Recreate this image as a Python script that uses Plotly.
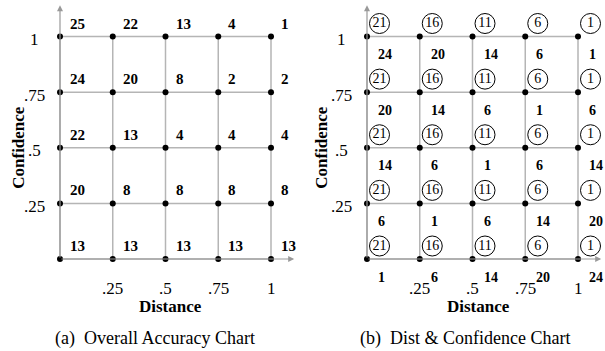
import plotly.graph_objects as go

# ---------------- data ----------------
distance = [0, 0.25, 0.5, 0.75, 1]
confidence = [1, 0.75, 0.5, 0.25, 0]          # rows, top to bottom
tick_vals = [0.25, 0.5, 0.75, 1]
tick_text = [".25", ".5", ".75", "1"]

overall_accuracy = [
    [25, 22, 13, 4, 1],
    [24, 20, 8, 2, 2],
    [22, 13, 4, 4, 4],
    [20, 8, 8, 8, 8],
    [13, 13, 13, 13, 13],
]
circled_rank = [
    [21, 16, 11, 6, 1],
    [21, 16, 11, 6, 1],
    [21, 16, 11, 6, 1],
    [21, 16, 11, 6, 1],
    [21, 16, 11, 6, 1],
]
dist_conf = [
    [24, 20, 14, 6, 1],
    [20, 14, 6, 1, 6],
    [14, 6, 1, 6, 14],
    [6, 1, 6, 14, 20],
    [1, 6, 14, 20, 24],
]
captions = ["(a)  Overall Accuracy Chart", "(b)  Dist & Confidence Chart"]

# ---------------- style ----------------
W, H = 605, 351
FONT = "Liberation Serif"
GRID = "#b5b5b5"
PX_X = 211.0     # pixels per data unit (x)
PX_Y = 222.5     # pixels per data unit (y)

fig = go.Figure()
ann = []

def panel(xa, ya, xref, yref):
    for c in confidence:
        fig.add_trace(go.Scatter(x=[distance[0], distance[-1]], y=[c, c], mode="lines",
                                 line=dict(color=GRID, width=1.5), xaxis=xa, yaxis=ya,
                                 hoverinfo="skip", showlegend=False))
    for d in distance:
        fig.add_trace(go.Scatter(x=[d, d], y=[confidence[-1], confidence[0]], mode="lines",
                                 line=dict(color=GRID, width=1.5), xaxis=xa, yaxis=ya,
                                 hoverinfo="skip", showlegend=False))
    ann.append(dict(x=1.11, y=0, ax=0, ay=0, xref=xref, yref=yref, axref=xref, ayref=yref,
                    text="", showarrow=True, arrowhead=2, arrowsize=1, arrowwidth=1.2,
                    arrowcolor="#999999"))
    ann.append(dict(x=0, y=1.14, ax=0, ay=0, xref=xref, yref=yref, axref=xref, ayref=yref,
                    text="", showarrow=True, arrowhead=2, arrowsize=1, arrowwidth=1.2,
                    arrowcolor="#999999"))
    xs = [d for c in confidence for d in distance]
    ys = [c for c in confidence for d in distance]
    fig.add_trace(go.Scatter(x=xs, y=ys, mode="markers",
                             marker=dict(color="black", size=6), xaxis=xa, yaxis=ya,
                             hoverinfo="skip", showlegend=False))
    for v, t in zip(tick_vals, tick_text):
        ann.append(dict(x=v, y=0, xref=xref, yref=yref, text=t, showarrow=False,
                        yshift=-29, borderpad=0,
                        font=dict(family=FONT, size=17, color="black")))
        ann.append(dict(x=0, y=v, xref=xref, yref=yref, text=t, showarrow=False,
                        xshift=-26, yshift=-3, font=dict(family=FONT, size=17, color="black")))

# ---- panel (a) ----
panel("x", "y", "x", "y")
for i, c in enumerate(confidence):
    for j, d in enumerate(distance):
        ann.append(dict(x=d, y=c, xref="x", yref="y", text=str(overall_accuracy[i][j]),
                        showarrow=False, xanchor="left", xshift=8, yshift=13,
                        font=dict(family=FONT, size=15, color="black", weight="bold")))

# ---- panel (b) ----
panel("x2", "y2", "x2", "y2")
cx = [d + 12.5 / PX_X for c in confidence for d in distance]
cy = [c + 13.0 / PX_Y for c in confidence for d in distance]
ct = [str(circled_rank[i][j]) for i in range(len(confidence)) for j in range(len(distance))]
fig.add_trace(go.Scatter(x=cx, y=cy, mode="markers+text", text=ct,
                         textposition="middle center",
                         textfont=dict(family=FONT, size=14, color="black"),
                         marker=dict(symbol="circle-open", size=20, color="black",
                                     line=dict(width=1, color="black")),
                         xaxis="x2", yaxis="y2", hoverinfo="skip", showlegend=False,
                         cliponaxis=False))
for i, c in enumerate(confidence):
    for j, d in enumerate(distance):
        ann.append(dict(x=d, y=c, xref="x2", yref="y2", text=str(dist_conf[i][j]),
                        showarrow=False, xanchor="left", xshift=9, yshift=-18,
                        font=dict(family=FONT, size=14, color="black", weight="bold")))

# ---- titles & captions ----
for xref, yref, cap, dx_t, dy_t, dx_c, dx_conf in [
    ("x", "y", captions[0], 4.5, -47, -10.5, -41),
    ("x2", "y2", captions[1], 5.5, -47, -7.5, -45),
]:
    ann.append(dict(x=0.5, y=0, xref=xref, yref=yref, text="Distance", showarrow=False,
                    xshift=dx_t, yshift=dy_t, borderpad=0,
                    font=dict(family=FONT, size=17, color="black", weight="bold")))
    ann.append(dict(x=0, y=0.5, xref=xref, yref=yref, text="Confidence", showarrow=False,
                    textangle=-90, xshift=dx_conf,
                    font=dict(family=FONT, size=17, color="black", weight="bold")))
    ann.append(dict(x=0.5, y=0, xref=xref, yref=yref, text=cap, showarrow=False,
                    xshift=dx_c, yshift=-79,
                    font=dict(family=FONT, size=18, color="black")))

# ---------------- axes ----------------
x1_origin = 60          # pixel column of data x=0, panel (a)
x2_origin = 367         # pixel column of data x=0, panel (b)
y_origin_from_top = 259 # pixel row of data y=0
split = 0.5
half_px = W * split
x1_lo = -x1_origin / PX_X
x2_lo = -(x2_origin - half_px) / PX_X
y_lo = -(H - y_origin_from_top) / PX_Y
ax_common = dict(visible=False, showgrid=False, zeroline=False, fixedrange=True)
fig.update_layout(
    width=W, height=H,
    margin=dict(l=0, r=0, t=0, b=0),
    paper_bgcolor="white", plot_bgcolor="white",
    showlegend=False,
    hovermode=False,
    xaxis=dict(domain=[0, split], range=[x1_lo, x1_lo + half_px / PX_X], **ax_common),
    yaxis=dict(domain=[0, 1], range=[y_lo, y_lo + H / PX_Y], **ax_common),
    xaxis2=dict(domain=[split, 1], range=[x2_lo, x2_lo + (W - half_px) / PX_X],
                anchor="y2", **ax_common),
    yaxis2=dict(domain=[0, 1], range=[y_lo, y_lo + H / PX_Y], anchor="x2", **ax_common),
    annotations=ann,
)

fig.write_html("out.html",
               config={"displayModeBar": False, "staticPlot": True},
               post_script="document.body.style.margin='0';"
                           "document.body.style.overflow='hidden';")
